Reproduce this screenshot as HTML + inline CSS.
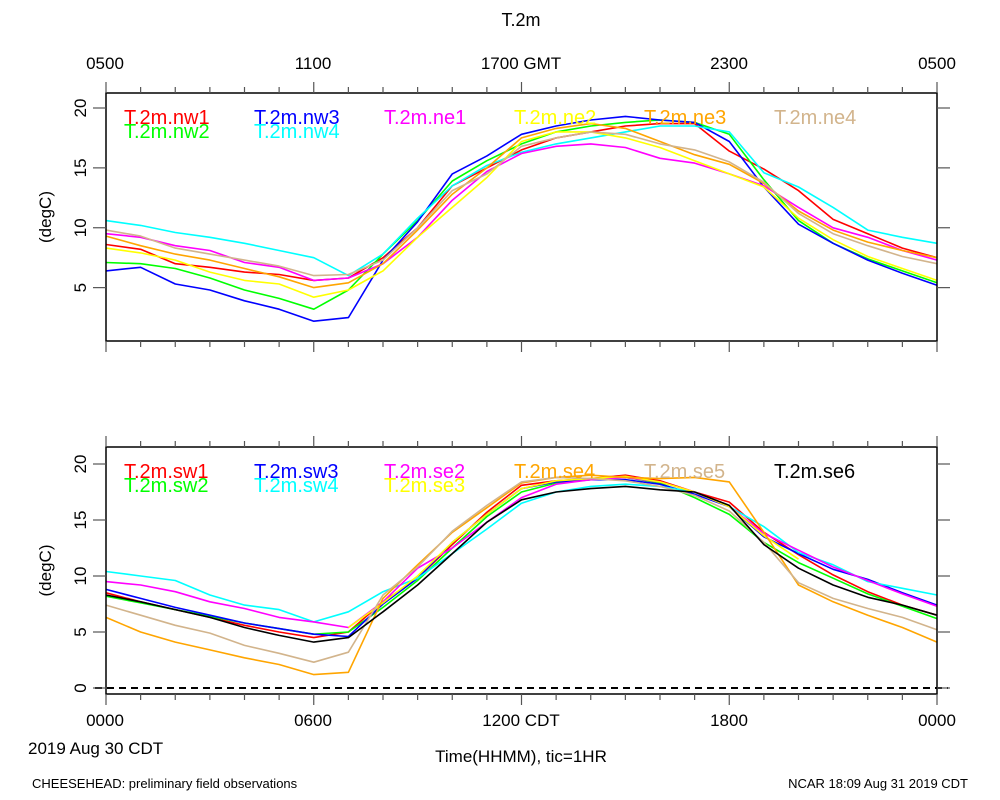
<!DOCTYPE html>
<html><head><meta charset="utf-8"><style>
body{margin:0;background:#fff;}
svg{display:block;font-family:"Liberation Sans",sans-serif;}
</style></head><body>
<svg id="chart" width="1000" height="800" viewBox="0 0 1000 800">
<text x="521" y="26" font-size="18" text-anchor="middle">T.2m</text>
<g font-size="17" text-anchor="middle">
<text x="105" y="69">0500</text><text x="313" y="69">1100</text><text x="521" y="69">1700 GMT</text><text x="729" y="69">2300</text><text x="937" y="69">0500</text>
</g>
<g font-size="17" text-anchor="middle">
<text x="105" y="726">0000</text><text x="313" y="726">0600</text><text x="521" y="726">1200 CDT</text><text x="729" y="726">1800</text><text x="937" y="726">0000</text>
</g>
<text x="28" y="754" font-size="17">2019 Aug 30 CDT</text>
<text x="521" y="762" font-size="17" text-anchor="middle">Time(HHMM), tic=1HR</text>
<text x="32" y="788" font-size="13">CHEESEHEAD: preliminary field observations</text>
<text x="968" y="788" font-size="13" text-anchor="end">NCAR 18:09 Aug 31 2019 CDT</text>
<g id="p1"></g>
<g id="p2"></g>
</svg>
<script>
const hours=[0,1,2,3,4,5,6,7,8,9,10,11,12,13,14,15,16,17,18,19,20,21,22,23,24];
const yTicks=[20,15,10,5];
const yTicks2=[20,15,10,5,0];
const nw1=[8.6,8.2,7.0,6.7,6.3,6.1,5.6,5.8,7.5,10.0,13.5,15.0,16.5,17.5,18.0,18.5,18.7,18.7,16.4,14.9,13.1,10.7,9.5,8.3,7.5];
const nw2=[7.1,7.0,6.6,5.8,4.8,4.1,3.2,4.8,7.8,10.6,13.9,15.6,17.0,18.0,18.5,18.8,19.0,18.8,17.8,14.0,10.6,8.7,7.4,6.4,5.4];
const nw3=[6.4,6.7,5.3,4.8,3.9,3.2,2.2,2.5,7.3,10.5,14.5,16.0,17.8,18.5,19.0,19.3,19.0,18.8,17.2,13.4,10.3,8.7,7.3,6.2,5.2];
const nw4=[10.6,10.2,9.6,9.2,8.7,8.1,7.5,6.0,7.8,10.8,13.5,15.2,16.3,17.0,17.5,18.0,18.5,18.5,18.0,14.6,13.4,11.7,9.8,9.2,8.7];
const ne1=[9.5,9.2,8.5,8.1,7.1,6.7,5.6,5.8,7.0,9.2,12.3,14.7,16.2,16.8,17.0,16.7,15.8,15.4,14.5,13.5,11.7,10.0,9.2,8.1,7.3];
const ne2=[8.3,7.9,7.3,6.3,5.6,5.3,4.2,4.8,6.4,9.2,11.7,14.2,17.2,18.0,18.0,17.5,16.7,15.6,14.5,13.4,10.8,9.0,7.6,6.6,5.6];
const ne3=[9.3,8.5,7.8,7.3,6.6,5.9,5.0,5.4,7.0,9.8,12.8,15.0,17.5,18.3,18.7,18.3,17.2,16.1,15.3,13.7,11.4,9.8,8.8,8.1,7.5];
const ne4=[9.8,9.3,8.3,7.8,7.3,6.8,6.0,6.1,7.3,10.0,13.1,14.5,16.8,17.5,18.0,17.8,17.0,16.5,15.5,13.8,11.2,9.5,8.5,7.6,7.0];
const sw1=[8.5,7.7,7.0,6.3,5.6,5.0,4.5,5.0,7.7,9.8,12.8,15.7,18.1,18.5,18.7,19.0,18.5,17.5,16.6,13.9,11.9,10.1,8.6,7.4,6.5];
const sw2=[8.2,7.6,7.0,6.4,5.8,5.3,4.8,5.0,7.2,9.6,12.5,15.3,17.5,18.3,18.6,18.8,18.3,17.0,15.5,13.0,11.2,9.8,8.4,7.3,6.2];
const sw3=[8.8,8.0,7.2,6.5,5.8,5.3,4.8,4.6,7.5,9.8,13.0,15.5,17.8,18.4,18.6,18.6,18.2,17.3,16.2,13.5,12.0,10.6,9.7,8.5,7.4];
const sw4=[10.4,10.0,9.6,8.3,7.4,7.0,5.9,6.8,8.6,9.8,12.0,14.2,16.5,17.5,18.0,18.2,18.0,17.5,16.2,14.4,12.1,11.0,9.5,8.9,8.3];
const se2=[9.5,9.2,8.6,7.7,7.1,6.3,5.9,5.4,7.7,10.7,12.5,14.8,17.0,18.2,18.6,18.8,18.4,17.5,16.2,13.8,12.3,10.8,9.6,8.4,7.3];
const se3=[null,null,null,null,null,null,null,5.4,7.6,10.0,13.0,15.5,17.8,18.5,18.7,18.9,18.4,17.5,16.2,13.6,11.5,null,null,null,null];
const se4=[6.3,5.0,4.1,3.4,2.7,2.1,1.2,1.4,8.0,11.0,13.9,16.1,18.3,18.8,19.0,18.8,18.7,18.8,18.4,13.9,9.2,7.7,6.5,5.4,4.1];
const se5=[7.4,6.5,5.6,4.9,3.8,3.1,2.3,3.2,8.3,10.8,14.0,16.3,18.4,18.8,18.7,18.5,18.0,17.2,15.8,13.0,9.4,8.0,7.1,6.3,5.2];
const se6=[8.3,7.7,7.0,6.3,5.4,4.7,4.1,4.5,6.8,9.2,12.0,14.8,16.8,17.5,17.8,18.0,17.7,17.5,16.3,12.8,10.7,9.2,8.1,7.4,6.5];

const NS='http://www.w3.org/2000/svg';
function mk(parent,tag,attrs){const e=document.createElementNS(NS,tag);for(const k in attrs)e.setAttribute(k,attrs[k]);parent.appendChild(e);return e;}
const X0=106,X1=937;
function xs(h){return X0+(X1-X0)*h/24;}

function panel(g,top,bottom,y20,y0,ticks,series,legendY,dashZero){
  const ys=v=>y0+(y20-y0)*v/20;
  series.forEach(s=>{
    let d='';let pen=false;
    hours.forEach((h,i)=>{const v=s.vals[i];if(v===null){pen=false;return;}d+=(pen?'L':'M')+xs(h).toFixed(1)+' '+ys(v).toFixed(1);pen=true;});
    const p=mk(g,'path',{d:d,fill:'none',stroke:s.color,'stroke-width':1.6,'stroke-linejoin':'round'});
    
    
  });
  if(dashZero){
    const l=mk(g,'line',{x1:95,x2:948,y1:ys(0),y2:ys(0),stroke:'#000','stroke-width':2,'stroke-dasharray':'7 5'});
    
    
  }
  const r=mk(g,'rect',{x:X0,y:top,width:X1-X0,height:bottom-top,fill:'none',stroke:'#000','stroke-width':1.5});
  
  
  hours.forEach(h=>{
    const major=h%6===0;
    mk(g,'line',{x1:xs(h),x2:xs(h),y1:bottom,y2:bottom+(major?11:6),stroke:'#555','stroke-width':1.2});
    mk(g,'line',{x1:xs(h),x2:xs(h),y1:top,y2:top-(major?11:6),stroke:'#555','stroke-width':1.2});
  });
  ticks.forEach(v=>{
    mk(g,'line',{x1:X0-13,x2:X0,y1:ys(v),y2:ys(v),stroke:'#555','stroke-width':1.2});
    mk(g,'line',{x1:X1,x2:X1+13,y1:ys(v),y2:ys(v),stroke:'#555','stroke-width':1.2});
    const t=mk(g,'text',{x:0,y:0,'font-size':17,'text-anchor':'middle',transform:'translate(86,'+ys(v)+') rotate(-90)'});
    t.textContent=String(v);
    
    
  });
  const yt=mk(g,'text',{x:0,y:0,'font-size':17,'text-anchor':'middle',transform:'translate(51,'+((top+bottom)/2)+') rotate(-90)'});
  yt.textContent='(degC)';
  
  
  series.forEach(s=>{
    const t=mk(g,'text',{x:124+130*s.col,y:legendY+14*s.row,'font-size':20,fill:s.color});
    t.textContent='T.2m.'+s.name;
    
    
  });
}
const C={r:'#ff0000',g:'#00ff00',b:'#0000ff',c:'#00ffff',m:'#ff00ff',y:'#ffff00',o:'#ffa500',t:'#d2b48c',k:'#000000'};
panel(document.getElementById('p1'),93,341,108,347.5,yTicks,[
 {name:'nw1',vals:nw1,color:C.r,col:0,row:0},{name:'nw2',vals:nw2,color:C.g,col:0,row:1},
 {name:'nw3',vals:nw3,color:C.b,col:1,row:0},{name:'nw4',vals:nw4,color:C.c,col:1,row:1},
 {name:'ne1',vals:ne1,color:C.m,col:2,row:0},{name:'ne2',vals:ne2,color:C.y,col:3,row:0},
 {name:'ne3',vals:ne3,color:C.o,col:4,row:0},{name:'ne4',vals:ne4,color:C.t,col:5,row:0}
],124,false);
panel(document.getElementById('p2'),447,694,464,688,yTicks2,[
 {name:'sw1',vals:sw1,color:C.r,col:0,row:0},{name:'sw2',vals:sw2,color:C.g,col:0,row:1},
 {name:'sw3',vals:sw3,color:C.b,col:1,row:0},{name:'sw4',vals:sw4,color:C.c,col:1,row:1},
 {name:'se2',vals:se2,color:C.m,col:2,row:0},{name:'se3',vals:se3,color:C.y,col:2,row:1},
 {name:'se4',vals:se4,color:C.o,col:3,row:0},{name:'se5',vals:se5,color:C.t,col:4,row:0},
 {name:'se6',vals:se6,color:C.k,col:5,row:0}
],478,true);
</script>
</body></html>
